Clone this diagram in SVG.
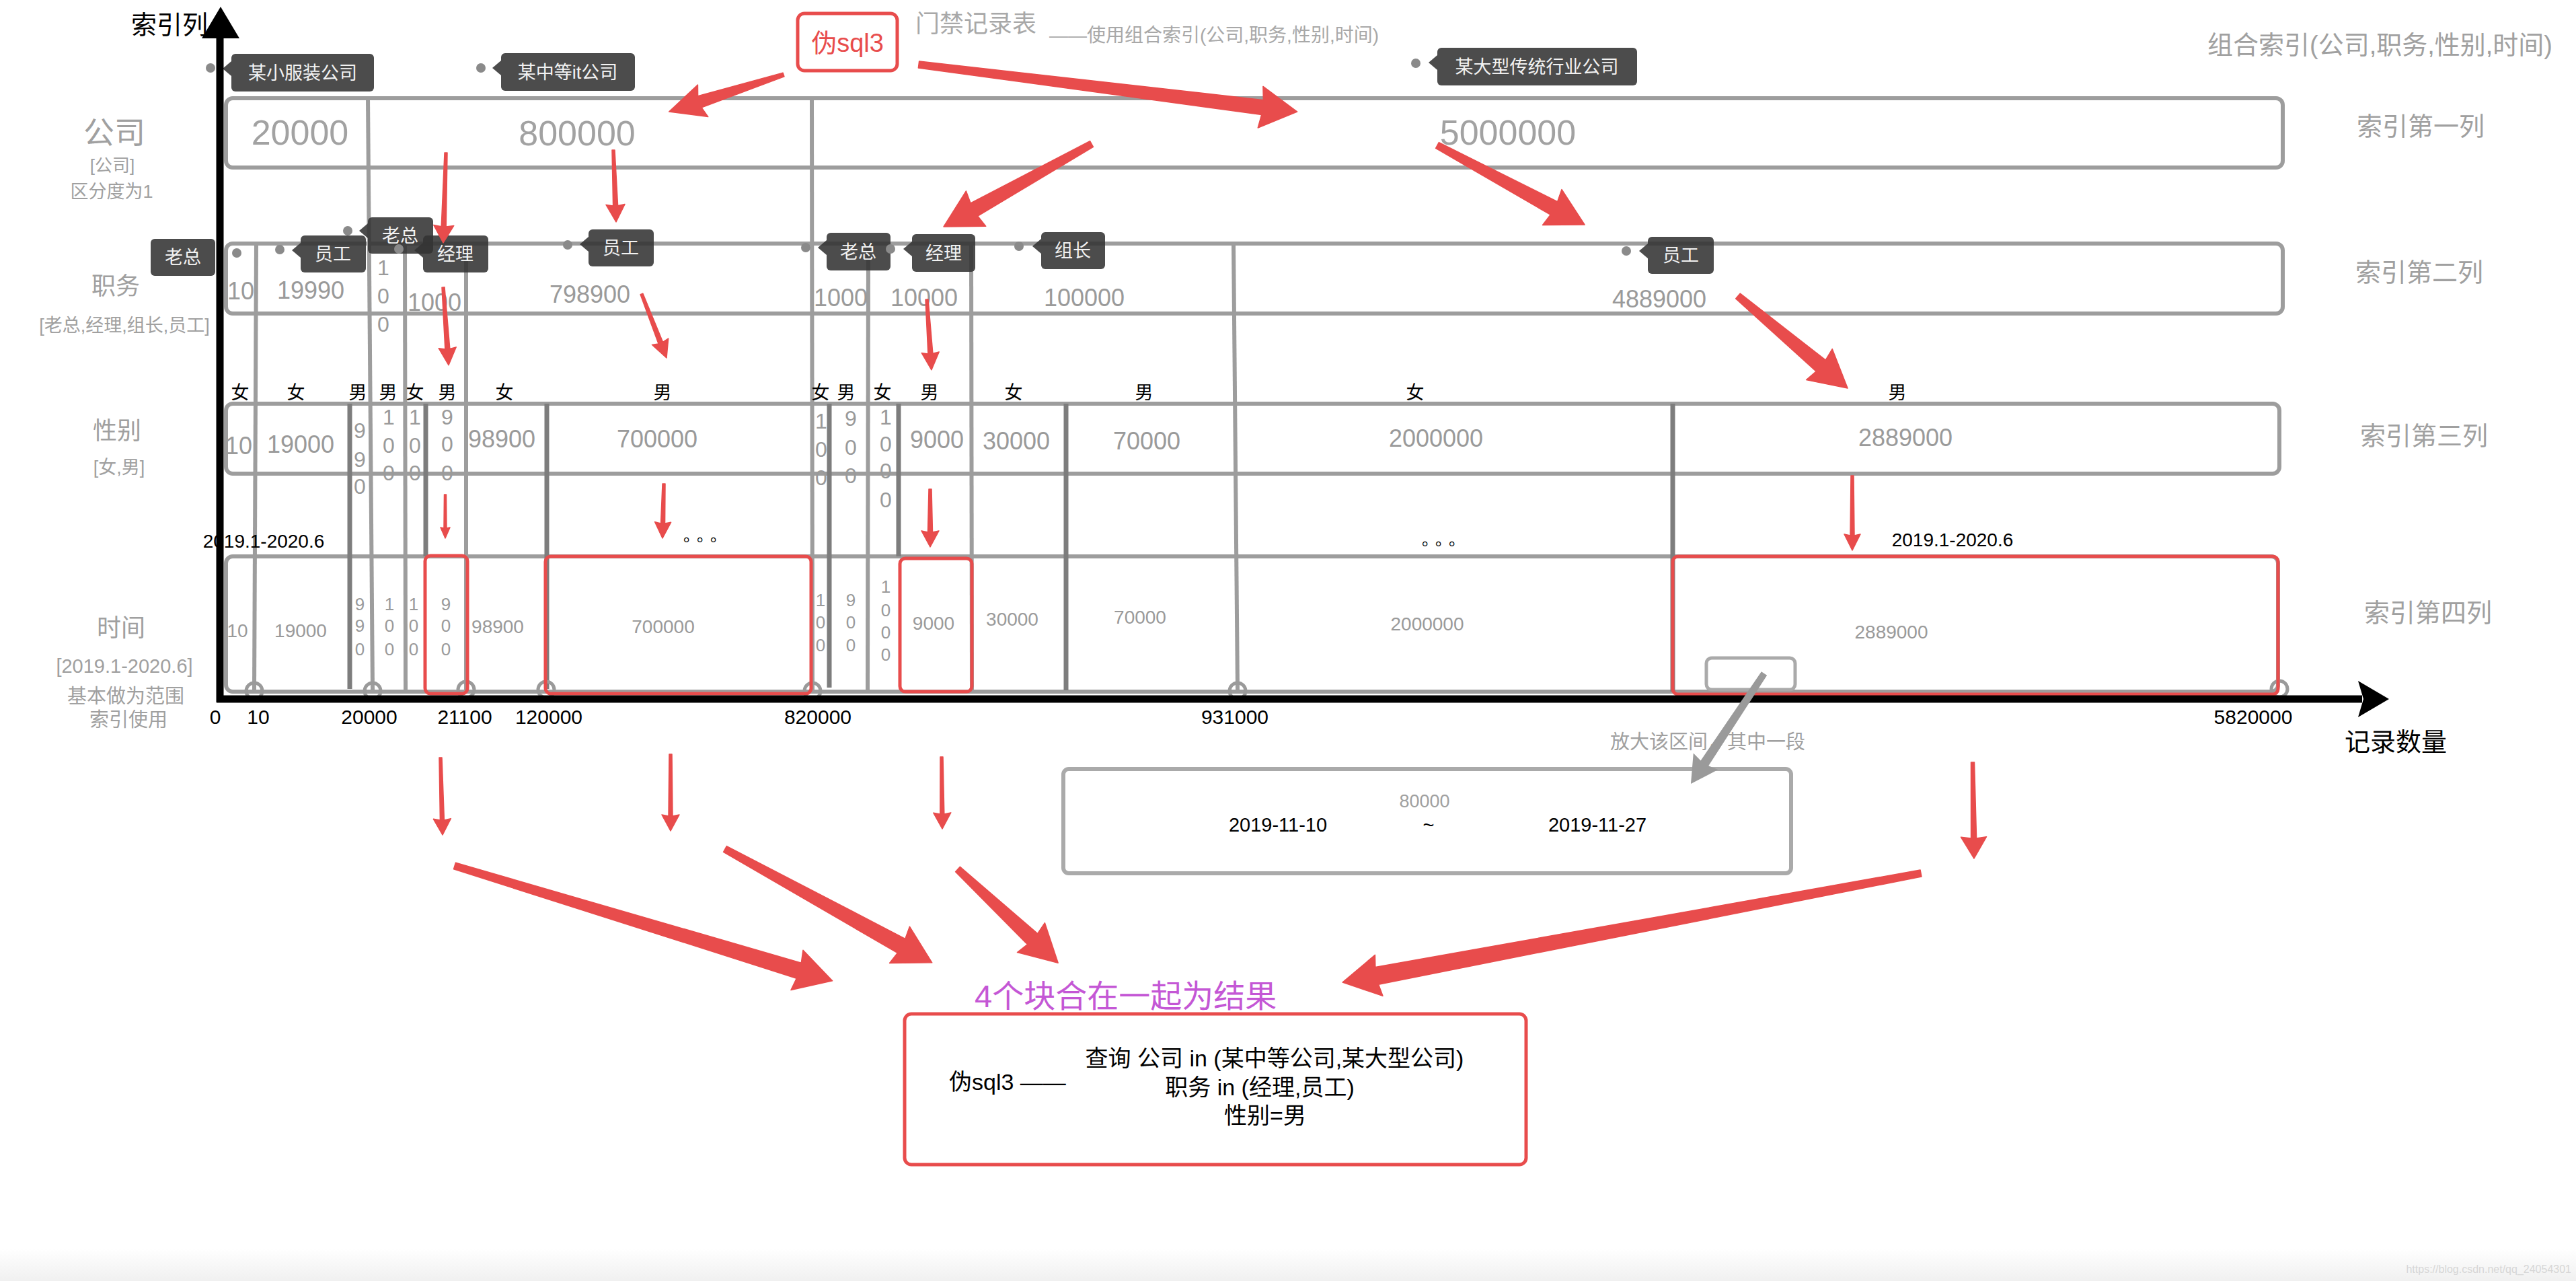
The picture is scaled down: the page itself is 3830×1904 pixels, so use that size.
<svg xmlns="http://www.w3.org/2000/svg" width="3830" height="1904" viewBox="0 0 3830 1904">
<defs>
<linearGradient id="bot" x1="0" y1="0" x2="0" y2="1"><stop offset="0" stop-color="#ffffff"/><stop offset="1" stop-color="#f0f0f0"/></linearGradient>
</defs>
<style>
text{font-family:"Liberation Sans","Noto Sans CJK SC",sans-serif}
.gl{stroke:#9d9d9d;stroke-width:6;fill:none}
.dl{stroke:#7d7d7d;stroke-width:7}
.rb{fill:none;stroke:#e84c4c;stroke-width:5}
.ring{fill:none;stroke:#9a9a9a;stroke-width:5}
.val{fill:#9a9a9a;text-anchor:middle}
.v1{font-size:52px;fill:#a2a2a2}
.v2{font-size:36px}
.v3{font-size:32px}
.v4{font-size:28px}
.v5{font-size:26px}
.ax{font-size:30px;fill:#000;text-anchor:middle}
.sx{font-size:27px;fill:#000;text-anchor:middle}
.lb{fill:#a0a0a0;text-anchor:middle}
.rl{fill:#a0a0a0;font-size:38px;text-anchor:middle}
.tg{fill:#333;fill-opacity:.88}
.tt{fill:#f2f2f2;font-size:27px;text-anchor:middle}
.dot{fill:#8a8a8a}
.ra{fill:#e84c4c;stroke:#e84c4c;stroke-width:1.5;stroke-linejoin:round}
.ga{fill:#9a9a9a}
.bk{fill:#000;font-size:38px}
.ell{font-size:24px;letter-spacing:8px;text-anchor:middle}
</style>
<rect x="0" y="0" width="3830" height="1904" fill="#fff"/>
<rect x="0" y="1856" width="3830" height="48" fill="url(#bot)"/>

<g id="grid">
<rect class="gl" x="336" y="146" width="3058" height="103" rx="10"/>
<rect class="gl" x="336" y="362" width="3058" height="104" rx="10"/>
<rect class="gl" x="336" y="600" width="3053" height="104" rx="10"/>
<rect class="gl" x="336" y="827" width="3051" height="201" rx="10"/>
<line class="gl" x1="547" y1="146" x2="554" y2="1026"/>
<line class="gl" x1="1207" y1="146" x2="1208" y2="1026"/>
<line class="gl" x1="381" y1="362" x2="378" y2="1026"/>
<line class="gl" x1="602" y1="362" x2="603" y2="1026"/>
<line class="gl" x1="693" y1="362" x2="693" y2="1026"/>
<line class="gl" x1="1291" y1="362" x2="1290" y2="1026"/>
<line class="gl" x1="1444" y1="362" x2="1445" y2="1026"/>
<line class="gl" x1="1834" y1="362" x2="1840" y2="1026"/>
<line class="dl" x1="520" y1="600" x2="520" y2="1024"/>
<line class="dl" x1="633" y1="600" x2="633" y2="827"/>
<line class="dl" x1="813" y1="600" x2="813" y2="1024"/>
<line class="dl" x1="1233" y1="600" x2="1233" y2="1022"/>
<line class="dl" x1="1336" y1="600" x2="1336" y2="827"/>
<line class="dl" x1="1585" y1="600" x2="1585" y2="1026"/>
<line class="dl" x1="2487" y1="600" x2="2487" y2="1028"/>
<circle class="ring" cx="378" cy="1027" r="12"/>
<circle class="ring" cx="554" cy="1027" r="12"/>
<circle class="ring" cx="693" cy="1025" r="12"/>
<circle class="ring" cx="812" cy="1025" r="12"/>
<circle class="ring" cx="1208" cy="1027" r="12"/>
<circle class="ring" cx="1840" cy="1027" r="12"/>
<circle class="ring" cx="3389" cy="1024" r="12"/>
</g>

<g id="row1-values" class="val">
<text class="v1" x="446" y="215">20000</text>
<text class="v1" x="858" y="216">800000</text>
<text class="v1" x="2242" y="215">5000000</text>
</g>

<g id="row2-values" class="val">
<text class="v2" x="358" y="445">10</text>
<text class="v2" x="462" y="444">19990</text>
<text class="v3" x="570" y="409">1</text>
<text class="v3" x="570" y="451">0</text>
<text class="v3" x="570" y="493">0</text>
<text class="v2" x="646" y="462">1000</text>
<text class="v2" x="877" y="450">798900</text>
<text class="v2" x="1250" y="455">1000</text>
<text class="v2" x="1374" y="455">10000</text>
<text class="v2" x="1612" y="455">100000</text>
<text class="v2" x="2467" y="457">4889000</text>
</g>

<g id="row3-values" class="val">
<text class="v2" x="355" y="675">10</text>
<text class="v2" x="447" y="673">19000</text>
<text class="v3" x="535" y="651">9</text><text class="v3" x="535" y="694">9</text><text class="v3" x="535" y="734">0</text>
<text class="v3" x="578" y="631">1</text><text class="v3" x="578" y="673">0</text><text class="v3" x="578" y="714">0</text>
<text class="v3" x="617" y="631">1</text><text class="v3" x="617" y="673">0</text><text class="v3" x="617" y="714">0</text>
<text class="v3" x="665" y="631">9</text><text class="v3" x="665" y="671">0</text><text class="v3" x="665" y="714">0</text>
<text class="v2" x="746" y="665">98900</text>
<text class="v2" x="977" y="665">700000</text>
<text class="v3" x="1221" y="637">1</text><text class="v3" x="1221" y="679">0</text><text class="v3" x="1221" y="721">0</text>
<text class="v3" x="1265" y="633">9</text><text class="v3" x="1265" y="676">0</text><text class="v3" x="1265" y="718">0</text>
<text class="v3" x="1317" y="631">1</text><text class="v3" x="1317" y="671">0</text><text class="v3" x="1317" y="711">0</text><text class="v3" x="1317" y="754">0</text>
<text class="v2" x="1393" y="666">9000</text>
<text class="v2" x="1511" y="668">30000</text>
<text class="v2" x="1705" y="668">70000</text>
<text class="v2" x="2135" y="664">2000000</text>
<text class="v2" x="2833" y="663">2889000</text>
</g>

<g id="row4-values" class="val">
<text class="v4" x="353" y="947">10</text>
<text class="v4" x="447" y="947">19000</text>
<text class="v5" x="535" y="907">9</text><text class="v5" x="535" y="939">9</text><text class="v5" x="535" y="974">0</text>
<text class="v5" x="579" y="907">1</text><text class="v5" x="579" y="939">0</text><text class="v5" x="579" y="974">0</text>
<text class="v5" x="615" y="907">1</text><text class="v5" x="615" y="939">0</text><text class="v5" x="615" y="974">0</text>
<text class="v5" x="663" y="907">9</text><text class="v5" x="663" y="939">0</text><text class="v5" x="663" y="974">0</text>
<text class="v4" x="740" y="941">98900</text>
<text class="v4" x="986" y="941">700000</text>
<text class="v5" x="1220" y="901">1</text><text class="v5" x="1220" y="934">0</text><text class="v5" x="1220" y="968">0</text>
<text class="v5" x="1265" y="901">9</text><text class="v5" x="1265" y="934">0</text><text class="v5" x="1265" y="968">0</text>
<text class="v5" x="1317" y="881">1</text><text class="v5" x="1317" y="916">0</text><text class="v5" x="1317" y="949">0</text><text class="v5" x="1317" y="982">0</text>
<text class="v4" x="1388" y="936">9000</text>
<text class="v4" x="1505" y="930">30000</text>
<text class="v4" x="1695" y="927">70000</text>
<text class="v4" x="2122" y="937">2000000</text>
<text class="v4" x="2812" y="949">2889000</text>
</g>

<g id="sex-labels" class="sx">
<text x="357" y="593">女</text><text x="440" y="593">女</text><text x="532" y="593">男</text><text x="577" y="593">男</text>
<text x="617" y="593">女</text><text x="665" y="593">男</text><text x="750" y="593">女</text><text x="985" y="593">男</text>
<text x="1220" y="593">女</text><text x="1258" y="593">男</text><text x="1312" y="593">女</text><text x="1382" y="593">男</text>
<text x="1507" y="593">女</text><text x="1701" y="593">男</text><text x="2104" y="593">女</text><text x="2821" y="593">男</text>
</g>

<g id="time-labels">
<text x="392" y="814" font-size="28" text-anchor="middle">2019.1-2020.6</text>
<text x="2903" y="812" font-size="28" text-anchor="middle">2019.1-2020.6</text>
<text class="ell" x="1052" y="804">。。。</text>
<text class="ell" x="2150" y="810">。。。</text>
</g>

<g id="red-boxes">
<rect class="rb" x="632" y="826" width="63" height="205" rx="8"/>
<rect class="rb" x="811" y="827" width="395" height="204" rx="8"/>
<rect class="rb" x="1338" y="830" width="107" height="198" rx="8"/>
<rect class="rb" x="2487" y="827" width="900" height="205" rx="8"/>
<rect x="2537" y="978" width="132" height="47" rx="8" fill="none" stroke="#aaa" stroke-width="5"/>
</g>

<g id="left-labels" class="lb">
<text x="170" y="213" font-size="46">公司</text>
<text x="167" y="255" font-size="26">[公司]</text>
<text x="166" y="294" font-size="27">区分度为1</text>
<text x="172" y="438" font-size="36">职务</text>
<text x="185" y="493" font-size="27">[老总,经理,组长,员工]</text>
<text x="174" y="653" font-size="36">性别</text>
<text x="177" y="704" font-size="27">[女,男]</text>
<text x="180" y="946" font-size="36">时间</text>
<text x="185" y="1000" font-size="29">[2019.1-2020.6]</text>
<text x="187" y="1045" font-size="29">基本做为范围</text>
<text x="191" y="1080" font-size="29">索引使用</text>
</g>

<g id="right-labels">
<text x="3795" y="80" font-size="38" fill="#a0a0a0" text-anchor="end">组合索引(公司,职务,性别,时间)</text>
<text class="rl" x="3599" y="201">索引第一列</text>
<text class="rl" x="3597" y="418">索引第二列</text>
<text class="rl" x="3604" y="661">索引第三列</text>
<text class="rl" x="3610" y="924">索引第四列</text>
</g>

<g id="title">
<rect x="1186" y="20" width="148" height="85" rx="10" fill="#fff" stroke="#e84c4c" stroke-width="5"/>
<text x="1260" y="77" font-size="38" fill="#e84c4c" text-anchor="middle">伪sql3</text>
<text x="1361" y="48" font-size="36" fill="#a8a8a8">门禁记录表</text>
<text x="1560" y="62" font-size="28" fill="#a8a8a8">——使用组合索引(公司,职务,性别,时间)</text>
</g>

<g id="tags">
<g id="tag-xiaofuzhuang"><circle class="dot" cx="313" cy="101" r="7"/><polygon class="tg" points="344,91 331,102 344,113"/><rect class="tg" x="344" y="80" width="212" height="56" rx="6"/><text class="tt" x="450" y="118">某小服装公司</text></g>
<g id="tag-zhongdeng"><circle class="dot" cx="715" cy="101" r="7"/><polygon class="tg" points="745,90 732,101 745,112"/><rect class="tg" x="745" y="79" width="199" height="56" rx="6"/><text class="tt" x="844" y="117">某中等it公司</text></g>
<g id="tag-daxing"><circle class="dot" cx="2105" cy="94" r="7"/><polygon class="tg" points="2137,82 2124,93 2137,104"/><rect class="tg" x="2137" y="71" width="297" height="56" rx="6"/><text class="tt" x="2285" y="109">某大型传统行业公司</text></g>
<g id="tag-laozong-left"><circle class="dot" cx="352" cy="376" r="7"/><rect class="tg" x="224" y="355" width="96" height="55" rx="6"/><text class="tt" x="272" y="392">老总</text></g>
<g id="tag-yuangong-1"><circle class="dot" cx="416" cy="371" r="7"/><polygon class="tg" points="447,361 434,372 447,383"/><rect class="tg" x="447" y="350" width="97" height="55" rx="6"/><text class="tt" x="495" y="387">员工</text></g>
<g id="tag-laozong-1"><circle class="dot" cx="517" cy="343" r="7"/><polygon class="tg" points="547,332 534,343 547,354"/><rect class="tg" x="547" y="323" width="97" height="54" rx="6"/><text class="tt" x="595" y="360">老总</text></g>
<g id="tag-jingli-1"><circle class="dot" cx="593" cy="370" r="7"/><polygon class="tg" points="629,361 616,372 629,383"/><rect class="tg" x="629" y="350" width="97" height="55" rx="6"/><text class="tt" x="677" y="387">经理</text></g>
<g id="tag-yuangong-2"><circle class="dot" cx="844" cy="364" r="7"/><polygon class="tg" points="875,352 862,363 875,374"/><rect class="tg" x="875" y="341" width="97" height="55" rx="6"/><text class="tt" x="923" y="378">员工</text></g>
<g id="tag-laozong-2"><circle class="dot" cx="1198" cy="368" r="7"/><polygon class="tg" points="1229,357 1216,368 1229,379"/><rect class="tg" x="1229" y="346" width="95" height="56" rx="6"/><text class="tt" x="1276" y="384">老总</text></g>
<g id="tag-jingli-2"><circle class="dot" cx="1324" cy="370" r="7"/><polygon class="tg" points="1356,359 1343,370 1356,381"/><rect class="tg" x="1356" y="348" width="94" height="56" rx="6"/><text class="tt" x="1403" y="386">经理</text></g>
<g id="tag-zuzhang"><circle class="dot" cx="1515" cy="366" r="7"/><polygon class="tg" points="1548,355 1535,366 1548,377"/><rect class="tg" x="1548" y="345" width="95" height="55" rx="6"/><text class="tt" x="1595" y="382">组长</text></g>
<g id="tag-yuangong-3"><circle class="dot" cx="2418" cy="373" r="7"/><polygon class="tg" points="2450,362 2437,373 2450,384"/><rect class="tg" x="2450" y="352" width="98" height="55" rx="6"/><text class="tt" x="2499" y="389">员工</text></g>
</g>

<g id="axes">
<text class="bk" x="195" y="50">索引列</text>
<line x1="327" y1="50" x2="327" y2="1044" stroke="#000" stroke-width="11"/>
<polygon points="328,10 356,57 300,57" fill="#000"/>
<line x1="322" y1="1039" x2="3512" y2="1039" stroke="#000" stroke-width="11"/>
<polygon points="3552,1039 3506,1012 3514,1039 3506,1066" fill="#000"/>
<text class="bk" x="3486" y="1116">记录数量</text>
<g class="ax">
<text x="320" y="1076">0</text><text x="384" y="1076">10</text><text x="549" y="1076">20000</text>
<text x="691" y="1076">21100</text><text x="816" y="1076">120000</text><text x="1216" y="1076">820000</text>
<text x="1836" y="1076">931000</text><text x="3350" y="1076">5820000</text>
</g>
</g>

<g id="zoom-box">
<rect x="1581" y="1143" width="1082" height="155" rx="8" fill="none" stroke="#aaa" stroke-width="6"/>
<text x="2118" y="1200" font-size="27" fill="#a0a0a0" text-anchor="middle">80000</text>
<text x="1900" y="1236" font-size="29" text-anchor="middle">2019-11-10</text>
<text x="2124" y="1236" font-size="29" text-anchor="middle">~</text>
<text x="2375" y="1236" font-size="29" text-anchor="middle">2019-11-27</text>
<text x="2394" y="1113" font-size="29" fill="#a0a0a0">放大该区间，其中一段</text>
</g>

<g id="result">
<text x="1449" y="1497" font-size="47" fill="#c457d5">4个块合在一起为结果</text>
<rect class="rb" x="1345" y="1507" width="924" height="224" rx="10"/>
<text x="1411" y="1620" font-size="34">伪sql3 ——</text>
<text x="1895" y="1585" font-size="34" text-anchor="middle">查询 公司 in (某中等公司,某大型公司)</text>
<text x="1873" y="1628" font-size="34" text-anchor="middle">职务 in (经理,员工)</text>
<text x="1881" y="1670" font-size="34" text-anchor="middle">性别=男</text>
</g>

<g id="connectors">
<polygon class="ra" transform="translate(1165,111) rotate(162.07)" points="0,-3 131,-9 126,-25 179,0 126,25 131,9 0,3"/>
<polygon class="ra" transform="translate(1366,96) rotate(7.09)" points="0,-5 515,-11 512,-31 567,0 512,31 515,11 0,5"/>
<polygon class="ra" transform="translate(1623,214) rotate(150.8)" points="0,-5 200,-11 197,-30 252,0 197,30 200,11 0,5"/>
<polygon class="ra" transform="translate(2137,216) rotate(28.32)" points="0,-5 197,-11 194,-30 249,0 194,30 197,11 0,5"/>
<polygon class="ra" transform="translate(2584,440) rotate(40.05)" points="0,-5 161,-11 158,-30 213,0 158,30 161,11 0,5"/>
<polygon class="ra" transform="translate(676,1287) rotate(16.92)" points="0,-5 535,-12 532,-31 587,0 532,31 535,12 0,5"/>
<polygon class="ra" transform="translate(1078,1262) rotate(28.75)" points="0,-5 299,-12 296,-31 351,0 296,31 299,12 0,5"/>
<polygon class="ra" transform="translate(1424,1292) rotate(43.01)" points="0,-5 152,-11 149,-30 204,0 149,30 152,11 0,5"/>
<polygon class="ra" transform="translate(2856,1298) rotate(169.33)" points="0,-5 823,-13 820,-31 875,0 820,31 823,13 0,5"/>
<polygon class="ra" transform="translate(663,227) rotate(91.71)" points="0,-2 110,-3.5 108,-15 134,0 108,15 110,3.5 0,2"/>
<polygon class="ra" transform="translate(912,223) rotate(87.86)" points="0,-2 83,-3.5 81,-14 107,0 81,14 83,3.5 0,2"/>
<polygon class="ra" transform="translate(659,427) rotate(86.05)" points="0,-2 92,-3.5 90,-13 116,0 90,13 92,3.5 0,2"/>
<polygon class="ra" transform="translate(954,437) rotate(68.72)" points="0,-2 78,-3.5 76,-13 102,0 76,13 78,3.5 0,2"/>
<polygon class="ra" transform="translate(1378,445) rotate(86.19)" points="0,-2 81,-3.5 79,-13 105,0 79,13 81,3.5 0,2"/>
<polygon class="ra" transform="translate(662,735) rotate(90)" points="0,-1.5 50,-2 49,-7 65,0 49,7 50,2 0,1.5"/>
<polygon class="ra" transform="translate(987,719) rotate(91.41)" points="0,-2 59,-3 57,-12 81,0 57,12 59,3 0,2"/>
<polygon class="ra" transform="translate(1383,727) rotate(90)" points="0,-2 64,-3.5 62,-13 86,0 62,13 64,3.5 0,2"/>
<polygon class="ra" transform="translate(2754,707) rotate(90)" points="0,-2 89,-3 87,-12 111,0 87,12 89,3 0,2"/>
<polygon class="ra" transform="translate(655,1126) rotate(88.51)" points="0,-2 93,-3 91,-13 115,0 91,13 93,3 0,2"/>
<polygon class="ra" transform="translate(997,1121) rotate(90)" points="0,-2 92,-3 90,-13 114,0 90,13 92,3 0,2"/>
<polygon class="ra" transform="translate(1400,1125) rotate(89.46)" points="0,-2 85,-3 83,-13 107,0 83,13 85,3 0,2"/>
<polygon class="ra" transform="translate(2933,1133) rotate(89.2)" points="0,-2.5 113,-4 111,-19 143,0 111,19 113,4 0,2.5"/>
<polygon class="ga" transform="translate(2623,1001) rotate(123.61)" points="0,-5 160,-7 157,-22 197,0 157,22 160,7 0,5"/>
</g>

<text x="3823" y="1892" font-size="16" fill="#d6d6d6" text-anchor="end">https://blog.csdn.net/qq_24054301</text>
</svg>
